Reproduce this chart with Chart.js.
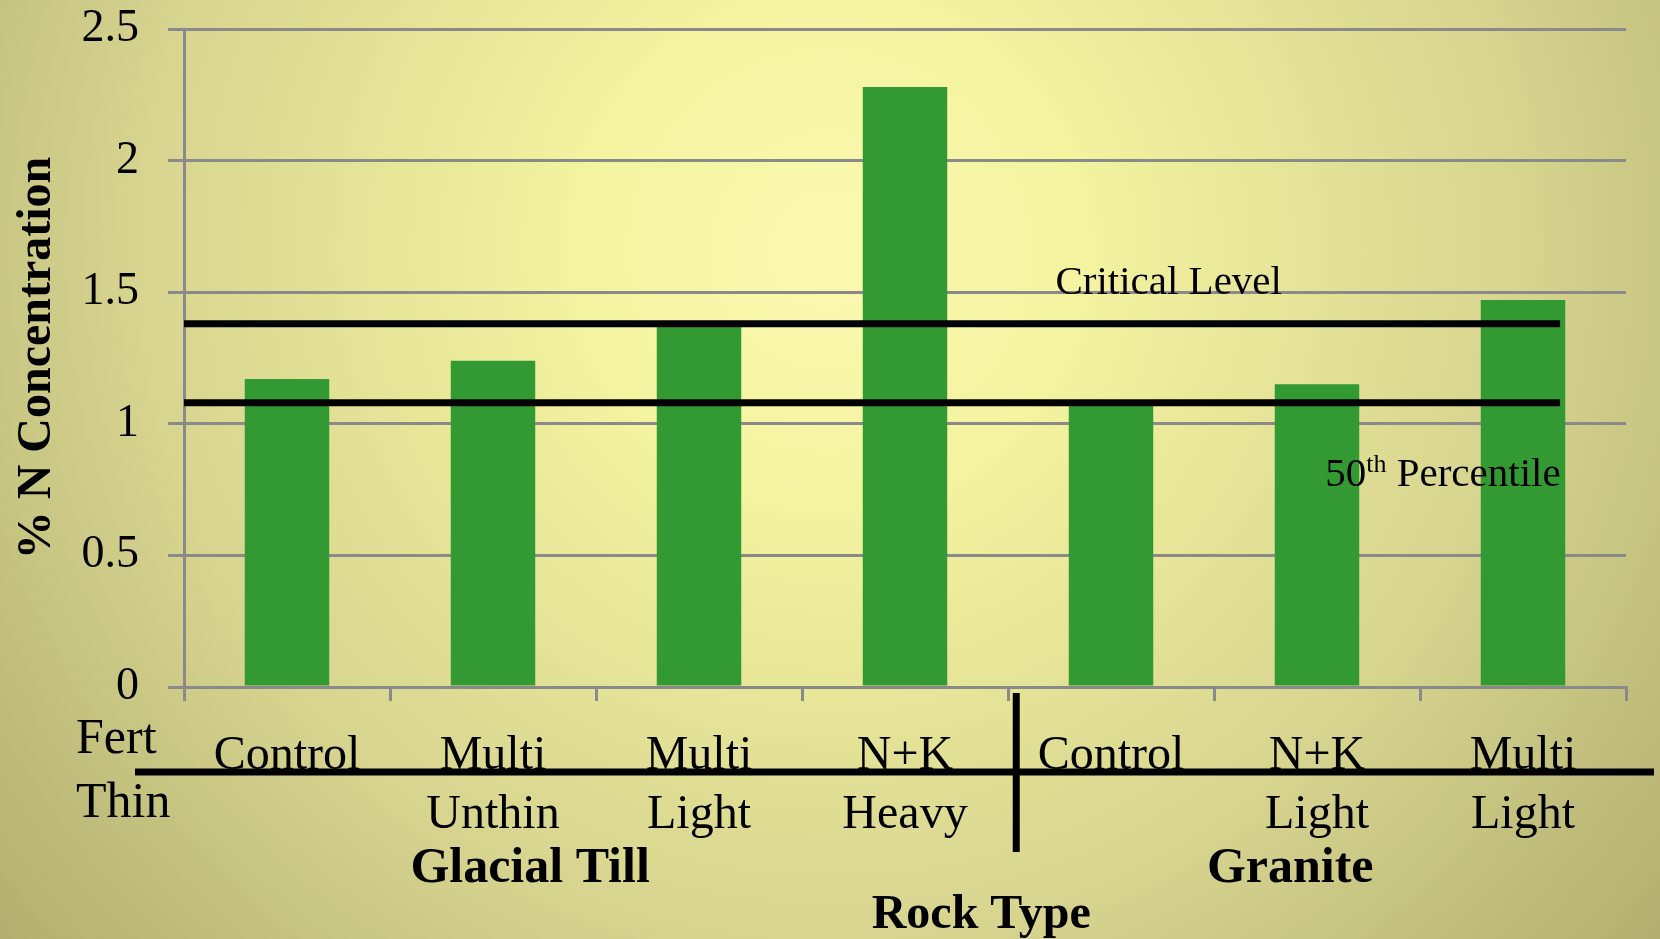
<!DOCTYPE html>
<html>
<head>
<meta charset="utf-8">
<title>% N Concentration by Rock Type</title>
<script src="https://cdn.jsdelivr.net/npm/chart.js@4.4.1/dist/chart.umd.min.js"></script>
<style>
  html, body { margin: 0; padding: 0; background: #d6d490; }
  #wrap { width: 1660px; height: 939px; }
</style>
</head>
<body>
<div id="wrap"><canvas id="nChart" width="1660" height="939"></canvas></div>
<script>
// treatments, first row (fertilizer) and second row (thinning)
const fertLabels = ['Control', 'Multi', 'Multi', 'N+K', 'Control', 'N+K', 'Multi'];
const thinLabels = ['', 'Unthin', 'Light', 'Heavy', '', 'Light', 'Light'];
const rockGroups = ['Glacial Till', 'Granite'];
const rockGroupCenters = [1.18, 4.87]; // category units
const nConcentration = [1.17, 1.24, 1.39, 2.28, 1.09, 1.15, 1.47];
const criticalLevel = 1.38;
const percentile50 = 1.08;
const yMax = 2.5;
const yStep = 0.5;

const SERIF = '"Liberation Serif", "Times New Roman", serif';
const GRID = '#8a8a8a';

const backdrop = {
    id: 'backdrop',
    beforeDraw(chart) {
        const { ctx, width, height } = chart;
        const g = ctx.createRadialGradient(830, 250, 0, 830, 250, 1100);
        g.addColorStop(0, '#fbf9b0');
        g.addColorStop(0.23, '#f4f3a0');
        g.addColorStop(0.63, '#d6d48f');
        g.addColorStop(1, '#b0ad6e');
        ctx.save();
        ctx.fillStyle = g;
        ctx.fillRect(0, 0, width, height);
        ctx.restore();
    }
};

// critical level / 50th percentile lines over the bars
const refLines = {
    id: 'refLines',
    afterDatasetsDraw(chart) {
        const { ctx, chartArea, scales: { x, y } } = chart;
        const xEnd = x.getPixelForValue(6.18);
        const yCrit = y.getPixelForValue(criticalLevel);
        const yMed = y.getPixelForValue(percentile50);

        ctx.save();
        ctx.strokeStyle = '#000';
        ctx.lineWidth = 7;
        [yCrit, yMed].forEach(py => {
            ctx.beginPath();
            ctx.moveTo(chartArea.left, py);
            ctx.lineTo(xEnd, py);
            ctx.stroke();
        });

        ctx.fillStyle = '#000';
        ctx.textBaseline = 'alphabetic';
        ctx.font = '41px ' + SERIF;
        ctx.textAlign = 'center';
        ctx.fillText('Critical Level', x.getPixelForValue(4.28), yCrit - 30);

        // 50th with superscript
        ctx.textAlign = 'left';
        let px = x.getPixelForValue(5.04);
        const base = yMed + 83;
        ctx.fillText('50', px, base);
        px += ctx.measureText('50').width;
        ctx.font = '26px ' + SERIF;
        ctx.fillText('th', px, base - 14);
        px += ctx.measureText('th').width;
        ctx.font = '41px ' + SERIF;
        ctx.fillText(' Percentile', px, base);
        ctx.restore();
    }
};

// two-row treatment labels, rock type groups
const treatmentAxis = {
    id: 'treatmentAxis',
    afterDraw(chart) {
        const { ctx, chartArea, width, scales: { x } } = chart;
        const b = chartArea.bottom;
        ctx.save();
        ctx.fillStyle = '#000';
        ctx.textBaseline = 'alphabetic';

        ctx.font = '50px ' + SERIF;
        ctx.textAlign = 'left';
        ctx.fillText('Fert', 76, b + 66);
        ctx.fillText('Thin', 76, b + 130);

        ctx.font = '48px ' + SERIF;
        ctx.textAlign = 'center';
        fertLabels.forEach((t, i) => ctx.fillText(t, x.getPixelForValue(i), b + 82));
        thinLabels.forEach((t, i) => { if (t) ctx.fillText(t, x.getPixelForValue(i), b + 141); });

        ctx.strokeStyle = '#000';
        ctx.lineWidth = 7;
        ctx.beginPath();
        ctx.moveTo(chartArea.left - 49, b + 85);
        ctx.lineTo(width - 6, b + 85);
        ctx.stroke();

        const xDiv = x.getPixelForValue(3.54);
        ctx.beginPath();
        ctx.moveTo(xDiv, b + 6);
        ctx.lineTo(xDiv, b + 165);
        ctx.stroke();

        ctx.font = 'bold 50px ' + SERIF;
        rockGroups.forEach((t, i) => ctx.fillText(t, x.getPixelForValue(rockGroupCenters[i]), b + 195));
        ctx.font = 'bold 48px ' + SERIF;
        ctx.fillText('Rock Type', x.getPixelForValue(3.37), b + 241);
        ctx.restore();
    }
};

const ctx = document.getElementById('nChart').getContext('2d');
new Chart(ctx, {
    type: 'bar',
    data: {
        labels: fertLabels,
        datasets: [{
            label: '% N',
            data: nConcentration,
            backgroundColor: '#339933',
            borderWidth: 0,
            barPercentage: 0.41,
            categoryPercentage: 1
        }]
    },
    options: {
        responsive: false,
        animation: false,
        devicePixelRatio: 1,
        layout: { padding: { left: 0, top: 29, right: 34, bottom: 0 } },
        plugins: {
            legend: { display: false },
            tooltip: { enabled: false }
        },
        scales: {
            x: {
                offset: true,
                ticks: { display: false },
                grid: {
                    offset: true,
                    drawOnChartArea: false,
                    drawTicks: true,
                    tickLength: 14,
                    color: GRID,
                    lineWidth: 3
                },
                border: { color: GRID, width: 3 },
                afterFit(scale) { scale.height = 252; }
            },
            y: {
                min: 0,
                max: yMax,
                ticks: {
                    stepSize: yStep,
                    color: '#000',
                    padding: 29,
                    font: { family: SERIF, size: 46, lineHeight: 1 },
                    callback: v => String(+v.toFixed(1))
                },
                grid: {
                    color: GRID,
                    lineWidth: 3,
                    tickLength: 16
                },
                border: { color: GRID, width: 3 },
                title: {
                    display: true,
                    text: '% N Concentration',
                    color: '#000',
                    font: { family: SERIF, size: 48, weight: 'bold' },
                    padding: { top: 9, bottom: 0 }
                },
                afterFit(scale) {
                    scale.width = 184;
                    scale.paddingTop = 0;
                    scale.paddingBottom = 0;
                }
            }
        }
    },
    plugins: [backdrop, refLines, treatmentAxis]
});
</script>
</body>
</html>
